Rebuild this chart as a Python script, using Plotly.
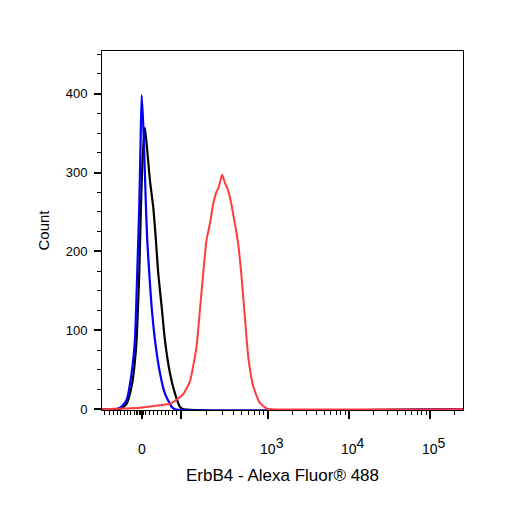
import numpy as np
import plotly.graph_objects as go

# x values are in display (biexponential) axis units: 10^3 -> 3, 10^4 -> 4, 10^5 -> 5
blue_x = [0.95, 1.100, 1.148, 1.200, 1.256, 1.317, 1.358, 1.386, 1.411, 1.428, 1.441,
          1.460, 1.481, 1.494, 1.510, 1.535, 1.564, 1.605, 1.667, 1.728, 1.811, 1.852, 5.41]
blue_y = [0, 0, 1, 4, 12, 46, 88, 172, 256, 341, 398,
          362, 299, 256, 214, 172, 130, 88, 46, 20, 3, 0, 0]

black_x = [0.95, 1.111, 1.194, 1.256, 1.317, 1.352, 1.379, 1.411, 1.432, 1.453, 1.481,
           1.510, 1.543, 1.584, 1.617, 1.646, 1.688, 1.728, 1.790, 1.852, 1.914, 1.963, 5.41]
black_y = [0, 0, 1, 7, 29, 55, 88, 172, 256, 320, 357,
           328, 290, 256, 214, 172, 130, 88, 46, 20, 3, 0, 0]

red_x = [0.95, 0.988, 1.235, 1.420, 1.667, 1.790, 1.873, 1.954, 2.037, 2.120, 2.160,
         2.201, 2.243, 2.284, 2.325, 2.367, 2.389, 2.407, 2.436, 2.469, 2.500, 2.531,
         2.593, 2.633, 2.675, 2.716, 2.757, 2.819, 2.901, 2.984, 3.049, 5.41]
red_y = [0, 0, 1, 2, 5, 7, 12, 19, 35, 80, 125,
         172, 215, 235, 260, 276, 280, 287, 297, 287, 280, 269,
         235, 210, 168, 117, 67, 29, 8, 1, 0, 0]

x_major_vals = [1.444, 1.922, 3, 4, 5]
x_major_text = ["0", "",
                "\u00a0\u00a010<sup><span style='font-size:14px'>3</span></sup>",
                "\u00a0\u00a010<sup><span style='font-size:14px'>4</span></sup>",
                "\u00a0\u00a010<sup><span style='font-size:14px'>5</span></sup>"]
y_major_vals = [0, 100, 200, 300, 400]

# minor tick positions (axis units)
neg_minor = [0.988, 1.046, 1.099, 1.148, 1.185, 1.231, 1.272, 1.309, 1.354,
             1.377, 1.395, 1.414, 1.432, 1.456, 1.469, 1.488]
lin_minor = [1.444 + k * (1.922 - 1.444) / 10 for k in range(2, 10)]
log_minor = ([1.922 + np.log10(k) * 1.078 for k in range(2, 10)]
             + [3 + np.log10(k) for k in range(2, 10)]
             + [4 + np.log10(k) for k in range(2, 10)]
             + [5 + np.log10(2)])
x_minor = neg_minor + lin_minor + [float(v) for v in log_minor]

fig = go.Figure()
fig.add_trace(go.Scatter(x=black_x, y=black_y, mode="lines",
                         line=dict(color="#000000", width=2.2, shape="spline", smoothing=0.5),
                         showlegend=False))
fig.add_trace(go.Scatter(x=blue_x, y=blue_y, mode="lines",
                         line=dict(color="#0000ff", width=2.2, shape="spline", smoothing=0.5),
                         showlegend=False))
fig.add_trace(go.Scatter(x=red_x, y=red_y, mode="lines",
                         line=dict(color="#ff3b3b", width=2.0, shape="spline", smoothing=0.5),
                         showlegend=False))

fig.update_layout(
    width=506, height=506,
    margin=dict(l=94, r=51, t=43, b=104),
    paper_bgcolor="white", plot_bgcolor="white",
    font=dict(family="Liberation Sans, Arial, sans-serif", size=13, color="#000000"),
    xaxis=dict(
        range=[0.951, 5.411], showgrid=False, zeroline=False,
        showline=True, linecolor="black", linewidth=1, mirror=True,
        ticks="outside", ticklen=8, tickwidth=2, tickcolor="black",
        tickmode="array", tickvals=x_major_vals, ticktext=x_major_text,
        tickfont=dict(size=14), ticklabelstandoff=18,
        minor=dict(tickmode="array", tickvals=x_minor, ticks="outside",
                   ticklen=4, tickwidth=1, tickcolor="black"),
        title=dict(text="ErbB4 - Alexa Fluor® 488", font=dict(size=17), standoff=13),
    ),
    yaxis=dict(
        range=[-1, 454], showgrid=False, zeroline=False,
        showline=True, linecolor="black", linewidth=1, mirror=True,
        ticks="outside", ticklen=7, tickwidth=2, tickcolor="black",
        tickmode="array", tickvals=y_major_vals,
        tickfont=dict(size=13), ticklabelstandoff=4,
        minor=dict(tickmode="array", tickvals=list(range(25, 451, 25)), ticks="outside",
                   ticklen=4, tickwidth=1, tickcolor="black"),
        title=dict(text="Count", font=dict(size=15), standoff=12),
    ),
)

fig.write_html("out.html")
